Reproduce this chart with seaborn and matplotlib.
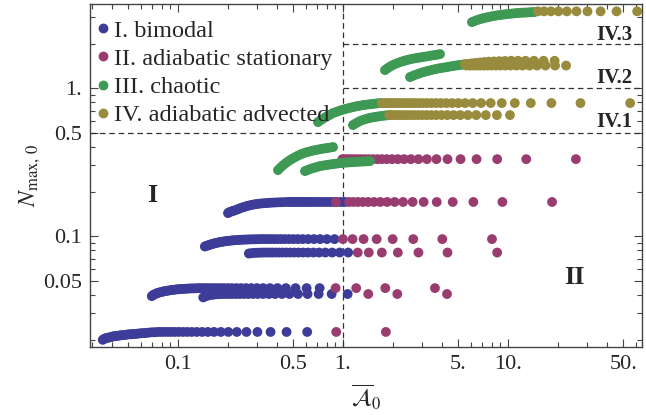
import matplotlib
matplotlib.use("Agg")
import matplotlib.pyplot as plt
from matplotlib.ticker import FixedLocator, FixedFormatter, LogLocator, NullFormatter
import pandas as pd
import seaborn as sns

REGIMES = ["I. bimodal", "II. adiabatic stationary", "III. chaotic", "IV. adiabatic advected"]
COLORS = ["#3d3d99", "#993d71", "#3d9954", "#998b3d"]

# ---- regime I rows (x = A0, y = N_max,0) ----
a_flat_x = [0.607, 0.455, 0.364, 0.303, 0.26, 0.2275, 0.202, 0.182, 0.1655, 0.1517, 0.14, 0.13,
            0.1213, 0.1138, 0.1071, 0.1011, 0.0958, 0.091, 0.0867, 0.0827, 0.0791, 0.0758]
a_flat_y = 0.0225
a_rise_x = [0.0728, 0.07, 0.0674, 0.065, 0.0628, 0.0607, 0.0587, 0.0569, 0.0552, 0.0535, 0.052,
            0.0506, 0.0492, 0.0479, 0.0467, 0.0455, 0.0444, 0.0433, 0.0423, 0.0414, 0.0404,
            0.0396, 0.0387, 0.0379, 0.0371, 0.0364, 0.0357, 0.035]
a_rise_y = [0.0224, 0.0224, 0.0223, 0.0222, 0.0221, 0.0221, 0.022, 0.0219, 0.0218, 0.0218,
            0.0217, 0.0217, 0.0216, 0.0215, 0.0214, 0.0214, 0.0213, 0.0212, 0.0211, 0.0211,
            0.021, 0.0208, 0.0207, 0.0206, 0.0205, 0.0204, 0.0202, 0.0199]

b1_flat_x = [0.722, 0.602, 0.516, 0.451, 0.401, 0.361, 0.328, 0.301, 0.278, 0.258, 0.241, 0.226,
             0.212, 0.2006, 0.19, 0.1805, 0.1719, 0.1641, 0.157, 0.1504, 0.1444, 0.1388, 0.1337]
b1_flat_y = 0.0445
b1_rise_x = [0.1289, 0.1245, 0.1203, 0.1165, 0.1128, 0.1094, 0.1062, 0.1031, 0.1003, 0.0976,
             0.095, 0.0926, 0.0903, 0.088, 0.086, 0.084, 0.082, 0.0802, 0.0785, 0.0768, 0.0752,
             0.0737, 0.0722, 0.0708, 0.0694]
b1_rise_y = [0.0444, 0.0443, 0.0443, 0.0442, 0.0441, 0.044, 0.0439, 0.0439, 0.0437, 0.0436,
             0.0434, 0.0433, 0.0431, 0.0429, 0.0427, 0.0425, 0.0423, 0.042, 0.0418, 0.0415,
             0.0412, 0.0409, 0.0404, 0.04, 0.0393]

b2_flat_x = [1.0675, 0.854, 0.712, 0.61, 0.534, 0.474, 0.427, 0.388, 0.356, 0.328, 0.305, 0.285,
             0.267, 0.251, 0.237, 0.225, 0.2135, 0.2033, 0.194, 0.1857]
b2_flat_y = 0.0406
b2_rise_x = [0.178, 0.1708, 0.1642, 0.1581, 0.1525, 0.1472, 0.1423]
b2_rise_y = [0.0405, 0.0404, 0.0402, 0.04, 0.0397, 0.0392, 0.0385]

c1_flat_x = [0.889, 0.8, 0.727, 0.667, 0.615, 0.571, 0.533, 0.5, 0.471, 0.444, 0.421, 0.4,
             0.381, 0.364, 0.348, 0.333, 0.32]
c1_flat_y = 0.0954
c1_rise_x = [0.308, 0.296, 0.286, 0.276, 0.267, 0.258, 0.25, 0.242, 0.235, 0.229, 0.222, 0.216,
             0.2105, 0.205, 0.2, 0.195, 0.1905, 0.186, 0.182, 0.178, 0.174, 0.17, 0.1667,
             0.1633, 0.16, 0.157, 0.1538, 0.151, 0.148, 0.1455]
c1_rise_y = [0.0953, 0.0952, 0.0951, 0.095, 0.0949, 0.0947, 0.0946, 0.0944, 0.0942, 0.094,
             0.0938, 0.0936, 0.0933, 0.093, 0.0927, 0.0924, 0.092, 0.0916, 0.0912, 0.0908,
             0.0903, 0.0898, 0.0893, 0.0888, 0.0882, 0.0876, 0.0869, 0.0863, 0.0856, 0.085]

c2_flat_x = [1.075, 0.956, 0.86, 0.782, 0.717, 0.662, 0.614, 0.573, 0.5375, 0.506, 0.478,
             0.453, 0.43, 0.41, 0.391, 0.374, 0.358, 0.344, 0.331]
c2_flat_y = 0.0774
c2_rise_x = [0.319, 0.307, 0.297, 0.287, 0.277, 0.269]
c2_rise_y = [0.0773, 0.0772, 0.0771, 0.0769, 0.0766, 0.0762]

d_flat_x = [1.028, 0.974, 0.925, 0.881, 0.841, 0.804, 0.771, 0.74, 0.712, 0.685, 0.661, 0.638,
            0.617, 0.597, 0.578, 0.561, 0.544, 0.529, 0.514, 0.5, 0.487, 0.474, 0.4625]
d_flat_y = 0.17
d_rise_x = [0.44, 0.42, 0.402, 0.385, 0.37, 0.356, 0.343, 0.33, 0.319, 0.308, 0.298, 0.289,
            0.28, 0.272, 0.264, 0.257, 0.25, 0.243, 0.237, 0.231, 0.226, 0.22, 0.215, 0.21,
            0.2056, 0.201]
d_rise_y = [0.1696, 0.1693, 0.169, 0.1686, 0.1682, 0.1677, 0.1672, 0.1667, 0.166, 0.1653,
            0.1645, 0.1635, 0.1625, 0.1612, 0.16, 0.1585, 0.157, 0.1555, 0.1538, 0.152,
            0.1505, 0.149, 0.1478, 0.1465, 0.1453, 0.143]

# ---- regime II (adiabatic stationary) tails ----
a_stat_x = [0.91, 1.82]
b1_stat_x = [0.9025, 1.203, 1.805, 3.61]
b2_stat_x = [1.423, 2.135, 4.27]
c1_stat_x = [1.0, 1.143, 1.333, 1.6, 2.0, 2.667, 4.0, 8.0]
c2_stat_x = [1.229, 1.433, 1.72, 2.15, 2.867, 4.3, 8.6]
d_stat_x = [0.907, 1.088, 1.156, 1.233, 1.321, 1.423, 1.542, 1.682, 1.85, 2.056, 2.3125,
            2.643, 3.083, 3.7, 4.625, 6.17, 9.25, 18.5]
e_stat_x = [0.992, 1.032, 1.075, 1.122, 1.173, 1.229, 1.29, 1.358, 1.433, 1.518, 1.6125, 1.72,
            1.843, 1.985, 2.15, 2.345, 2.58, 2.867, 3.225, 3.686, 4.3, 5.16, 6.45, 8.6, 12.9, 25.8]
e_stat_y = 0.331

# ---- regime III (chaotic) bands ----
g1_x = [0.404, 0.4184, 0.4332, 0.4486, 0.4646, 0.4811, 0.4982, 0.5159, 0.5342, 0.5532, 0.5728,
        0.5932, 0.6142, 0.6361, 0.6587, 0.6821, 0.7063, 0.7314, 0.7574, 0.7843, 0.8122, 0.841, 0.8709]
g1_y = [0.2792, 0.2904, 0.301, 0.3104, 0.3196, 0.3277, 0.3355, 0.3428, 0.3499, 0.3565, 0.3621,
        0.3666, 0.3706, 0.3747, 0.3782, 0.3812, 0.3842, 0.3872, 0.3896, 0.392, 0.3944, 0.3969, 0.3994]
g2_x = [0.5885, 0.6094, 0.631, 0.6534, 0.6766, 0.7006, 0.7255, 0.7513, 0.7779, 0.8056, 0.8342,
        0.8638, 0.8944, 0.9262, 0.9591, 0.9931, 1.0284, 1.0649, 1.1027, 1.1419, 1.1824, 1.2244,
        1.2679, 1.3129, 1.3595, 1.4078, 1.4578]
g2_y = [0.2749, 0.2792, 0.2837, 0.2872, 0.2904, 0.2938, 0.2972, 0.299, 0.301, 0.3028, 0.3047,
        0.3061, 0.308, 0.3094, 0.3114, 0.3124, 0.3133, 0.3143, 0.3153, 0.3158, 0.3168, 0.3173,
        0.3183, 0.3188, 0.3197, 0.3202, 0.3212]
g3_x = [0.7055, 0.7306, 0.7565, 0.7834, 0.8112, 0.84, 0.8698, 0.9007, 0.9327, 0.9658, 1.0001,
        1.0356, 1.0724, 1.1104, 1.1499, 1.1907, 1.233, 1.2768, 1.3221, 1.369, 1.4176, 1.468,
        1.5201, 1.5741, 1.63, 1.6878]
g3_y = [0.5891, 0.6059, 0.6211, 0.6358, 0.6497, 0.663, 0.6776, 0.6872, 0.6968, 0.7067, 0.7145,
        0.7223, 0.7302, 0.7371, 0.744, 0.751, 0.7569, 0.7616, 0.7674, 0.7711, 0.7747, 0.7783,
        0.7819, 0.7857, 0.7893, 0.7918]
g4_x = [1.1499, 1.1907, 1.233, 1.2768, 1.3221, 1.369, 1.4176, 1.468, 1.5201, 1.5741, 1.63,
        1.6878, 1.7477, 1.8098, 1.874, 1.9406]
g4_y = [0.5623, 0.5763, 0.5891, 0.6011, 0.6097, 0.6173, 0.624, 0.6298, 0.6348, 0.6387, 0.6427,
        0.6467, 0.6497, 0.6528, 0.6548, 0.6569]
g5_x = [1.797, 1.861, 1.927, 1.995, 2.066, 2.14, 2.216, 2.294, 2.376, 2.46, 2.548, 2.638, 2.732,
        2.829, 2.929, 3.033, 3.141, 3.252, 3.368, 3.487, 3.611, 3.74, 3.872]
g5_y = [1.323, 1.361, 1.397, 1.426, 1.453, 1.476, 1.496, 1.517, 1.534, 1.551, 1.565, 1.578, 1.59,
        1.6, 1.61, 1.62, 1.63, 1.64, 1.653, 1.663, 1.671, 1.684, 1.697]
g6_x = [2.548, 2.638, 2.732, 2.829, 2.929, 3.033, 3.141, 3.252, 3.368, 3.487, 3.611, 3.74, 3.872,
        4.01, 4.152, 4.3, 4.452, 4.61, 4.774, 4.944, 5.119, 5.301, 5.49]
g6_y = [1.187, 1.207, 1.226, 1.243, 1.261, 1.277, 1.291, 1.305, 1.317, 1.329, 1.342, 1.352, 1.363,
        1.371, 1.38, 1.39, 1.399, 1.408, 1.417, 1.426, 1.433, 1.439, 1.446]
g7_x = [6.05, 6.265, 6.487, 6.718, 6.956, 7.203, 7.459, 7.724, 7.998, 8.282, 8.576, 8.881, 9.196,
        9.523, 9.861, 10.211, 10.574, 10.949, 11.338, 11.741, 12.158, 12.59, 13.037, 13.499,
        13.979, 14.475]
g7_y = [2.792, 2.836, 2.88, 2.916, 2.948, 2.98, 3.008, 3.032, 3.055, 3.079, 3.098, 3.113, 3.132,
        3.147, 3.162, 3.177, 3.187, 3.202, 3.212, 3.222, 3.232, 3.237, 3.242, 3.252, 3.262, 3.267]

# ---- regime IV (adiabatic advected) rows ----
o1_x = [55.0, 27.5, 18.33, 13.75, 11.0, 9.167, 7.857, 6.875, 6.111, 5.5, 5.0, 4.583, 4.231, 3.929,
        3.667, 3.438, 3.235, 3.056, 2.895, 2.75, 2.619, 2.5, 2.391, 2.292, 2.2, 2.115, 2.037,
        1.964, 1.897, 1.833, 1.774, 1.719]
o1_y = 0.792
o2_x = [10.28, 8.567, 7.343, 6.425, 5.711, 5.14, 4.673, 4.283, 3.954, 3.671, 3.427, 3.213, 3.024,
        2.856, 2.705, 2.57, 2.448, 2.336, 2.235, 2.142, 2.056, 1.977, 1.904]
o2_y = 0.657
o3_x = [19.17, 16.43, 14.375, 12.78, 11.5, 10.45, 9.583, 8.846, 8.214, 7.667, 7.188, 6.765, 6.389,
        6.053, 5.75, 5.476]
o3_y = [1.53, 1.53, 1.53, 1.53, 1.53, 1.53, 1.525, 1.52, 1.515, 1.51, 1.5, 1.49, 1.48, 1.47,
        1.46, 1.45]
o4_x = [22.5, 19.29, 16.875, 15.0, 13.5, 12.27, 11.25, 10.38, 9.643, 9.0, 8.438, 7.941, 7.5,
        7.105, 6.75, 6.429, 6.136, 5.87, 5.625]
o4_y = 1.42
o5_x = [60.67, 45.5, 36.4, 30.33, 26.0, 22.75, 20.22, 18.2, 16.55, 15.17]
o5_y = 3.3

segments = [
    (a_flat_x, a_flat_y, 0), (a_rise_x, a_rise_y, 0),
    (b1_flat_x, b1_flat_y, 0), (b1_rise_x, b1_rise_y, 0),
    (b2_flat_x, b2_flat_y, 0), (b2_rise_x, b2_rise_y, 0),
    (c1_flat_x, c1_flat_y, 0), (c1_rise_x, c1_rise_y, 0),
    (c2_flat_x, c2_flat_y, 0), (c2_rise_x, c2_rise_y, 0),
    (d_flat_x, d_flat_y, 0), (d_rise_x, d_rise_y, 0),
    (a_stat_x, a_flat_y, 1), (b1_stat_x, b1_flat_y, 1), (b2_stat_x, b2_flat_y, 1),
    (c1_stat_x, c1_flat_y, 1), (c2_stat_x, c2_flat_y, 1), (d_stat_x, d_flat_y, 1),
    (e_stat_x, e_stat_y, 1),
    (g1_x, g1_y, 2), (g2_x, g2_y, 2), (g3_x, g3_y, 2), (g4_x, g4_y, 2),
    (g5_x, g5_y, 2), (g6_x, g6_y, 2), (g7_x, g7_y, 2),
    (o1_x, o1_y, 3), (o2_x, o2_y, 3), (o3_x, o3_y, 3), (o4_x, o4_y, 3), (o5_x, o5_y, 3),
]

frames = []
for xs, ys, k in segments:
    if not isinstance(ys, list):
        ys = [ys] * len(xs)
    frames.append(pd.DataFrame({"A0": xs, "Nmax": ys, "regime": REGIMES[k]}))
df = pd.concat(frames, ignore_index=True)

sns.set_style("ticks")
plt.rcParams["font.family"] = ["Liberation Serif", "DejaVu Serif"]
plt.rcParams["mathtext.fontset"] = "stix"

fig = plt.figure(figsize=(6.46, 4.15), dpi=100)
ax = fig.add_axes([90 / 646, 1 - 347 / 415, 552 / 646, 343 / 415])

XLIM = (0.0293, 64.9)
YLIM = (0.0178, 3.7)

dash = dict(color="#333333", lw=0.9, ls=(0, (4.5, 3)), zorder=1)
ax.axvline(1.0, **dash)
ax.axhline(0.5, **dash)
ax.hlines([1.0, 2.0], 1.0, XLIM[1], **dash)

sns.scatterplot(data=df, x="A0", y="Nmax", hue="regime", hue_order=REGIMES,
                palette=COLORS, s=50, linewidth=0, alpha=1.0, ax=ax, zorder=2)

ax.set_xscale("log")
ax.set_yscale("log")
ax.set_xlim(*XLIM)
ax.set_ylim(*YLIM)

ax.xaxis.set_major_locator(FixedLocator([0.1, 0.5, 1, 5, 10, 50]))
ax.xaxis.set_major_formatter(FixedFormatter(["0.1", "0.5", "1.", "5.", "10.", "50."]))
ax.xaxis.set_minor_locator(LogLocator(base=10, subs=range(2, 10), numticks=20))
ax.xaxis.set_minor_formatter(NullFormatter())
ax.yaxis.set_major_locator(FixedLocator([0.05, 0.1, 0.5, 1]))
ax.yaxis.set_major_formatter(FixedFormatter(["0.05", "0.1", "0.5", "1."]))
ax.yaxis.set_minor_locator(LogLocator(base=10, subs=range(2, 10), numticks=20))
ax.yaxis.set_minor_formatter(NullFormatter())

ax.tick_params(which="both", direction="in", top=True, right=True, color="#444444",
               labelsize=16, width=0.8, pad=6)
ax.tick_params(which="major", length=6)
ax.tick_params(which="minor", length=3.5)
for sp in ax.spines.values():
    sp.set_color("#444444")
    sp.set_linewidth(1.0)

ax.set_xlabel(r"$\overline{\mathcal{A}}_0$", fontsize=17, labelpad=6)
ax.set_ylabel(r"$N_{\rm max,\,0}$", fontsize=17, labelpad=0)

ax.text(0.0695, 0.189, "I", fontsize=19, fontweight="bold", ha="center", va="center")
ax.text(25.1, 0.0528, "II", fontsize=19, fontweight="bold", ha="center", va="center")
for lab, yy in [("IV.3", 2.28), ("IV.2", 1.17), ("IV.1", 0.589)]:
    ax.text(56.5, yy, lab, fontsize=15, fontweight="bold", ha="right", va="center")

sns.move_legend(ax, "upper left", bbox_to_anchor=(0.0, 0.975), title=None, frameon=False,
                fontsize=17.5, handlelength=0.5, handletextpad=0.18, labelspacing=0.25,
                borderaxespad=0.0, borderpad=0.3)

fig.savefig("out.png", dpi=100)
